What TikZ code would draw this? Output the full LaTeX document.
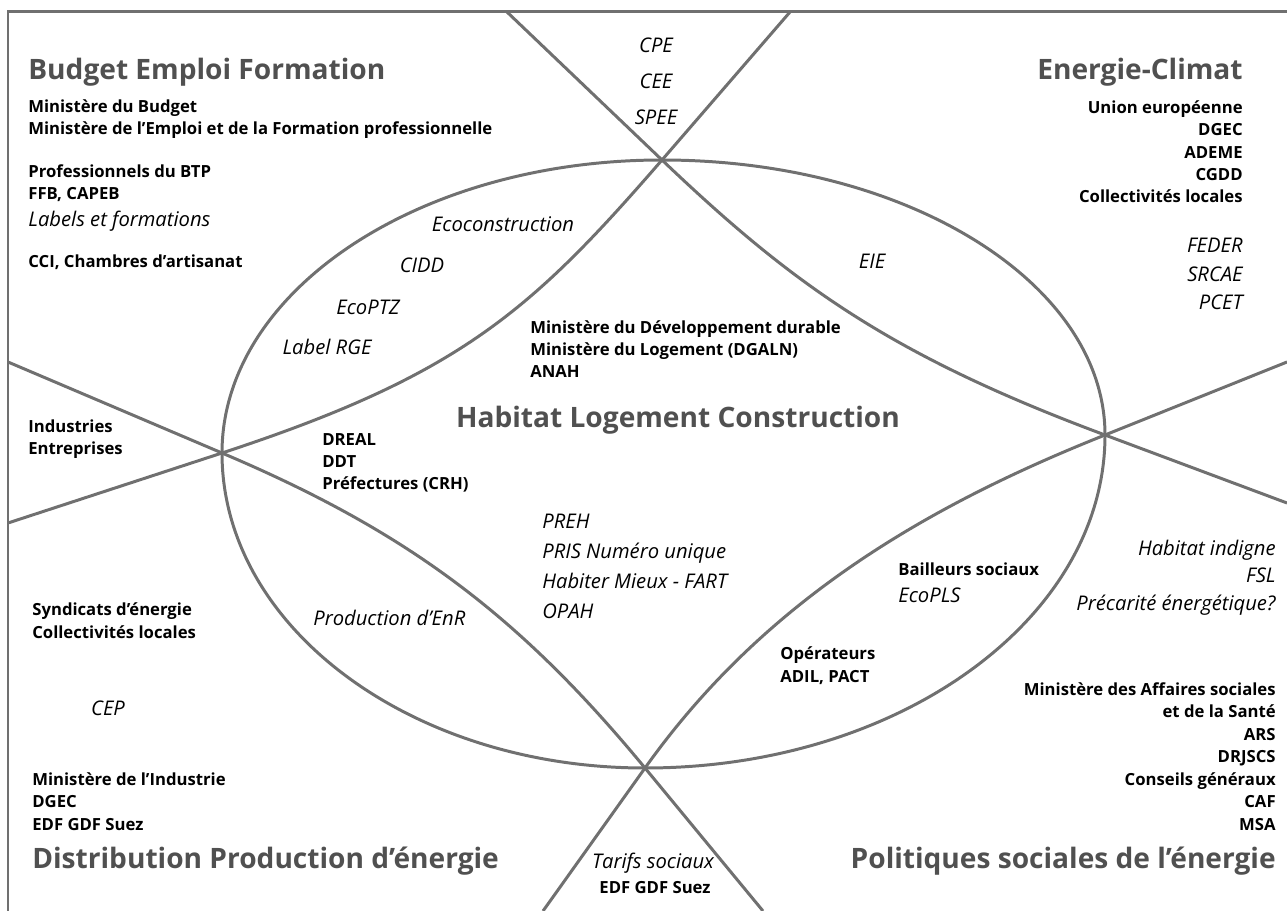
\documentclass[tikz,border=0pt]{standalone}
\usepackage{fontspec}
\setmainfont{Open Sans}

\definecolor{linegray}{RGB}{112,112,112}
\definecolor{headgray}{RGB}{80,80,80}

\tikzset{
	frontier/.style={draw=linegray, line width=1.7pt},
	heading/.style={inner sep=0pt, text=headgray, font=\fontsize{16}{19}\selectfont\bfseries},
	actor/.style={inner sep=0pt, font=\fontsize{9.5}{12.8}\selectfont\bfseries},
	tool/.style={inner sep=0pt, font=\fontsize{11.5}{17}\selectfont\itshape},
}

\begin{document}
\begin{tikzpicture}[x=0.02cm, y=-0.02cm]
	\useasboundingbox (0,0) rectangle (1287,911);

	% crossing points on the ellipse
	\coordinate (T) at (662,160);
	\coordinate (R) at (1105,435);
	\coordinate (B) at (645,768);
	\coordinate (L) at (222,453);
	% ends on the frame
	\coordinate (Tw) at (507,12);
	\coordinate (Te) at (790,12);
	\coordinate (Ln) at (8,362);
	\coordinate (Ls) at (8,523);
	\coordinate (Rn) at (1287,362);
	\coordinate (Rs) at (1287,503);
	\coordinate (Bw) at (543,911);
	\coordinate (Be) at (763,911);

	% frame
	\draw[frontier] (8,911) |- (1287,12);

	% ellipse
	\draw[frontier] (T) .. controls (907,160) and (1105,283) .. (R)
		.. controls (1105,619) and (899,768) .. (B)
		.. controls (411,768) and (222,627) .. (L)
		.. controls (222,291) and (419,160) .. (T);

	% frontiers between the fields
	\draw[frontier] (Te) -- (T) .. controls (531,311) and (460,375) .. (L) -- (Ls);
	\draw[frontier] (Tw) -- (T) .. controls (792,284) and (890,355) .. (R) -- (Rs);
	\draw[frontier] (Ln) -- (L) .. controls (406,531) and (518,614) .. (B) -- (Be);
	\draw[frontier] (Rn) -- (R) .. controls (919,509) and (761,605) .. (B) -- (Bw);

	% headings
	\node[heading, anchor=base west] (budget) at (28,80) {Budget Emploi Formation};
	\node[heading, anchor=base east] (climat) at (1243,80) {Energie-Climat};
	\node[heading, anchor=base] (habitat) at (678,428) {Habitat Logement Construction};
	\node[heading, anchor=base west] (distrib) at (32,868) {Distribution Production d'énergie};
	\node[heading, anchor=base east] (social) at (1276,868) {Politiques sociales de l'énergie};

	% Budget Emploi Formation (multi-line nodes sit on their last line)
	\node[actor, anchor=base west, align=left] (minbudget) at (28,135) {Ministère du Budget\\Ministère de l'Emploi et de la Formation professionnelle};
	\node[actor, anchor=base west, align=left] (btp) at (28,200) {Professionnels du BTP\\FFB, CAPEB};
	\node[tool, anchor=base west] (labels) at (28,227) {Labels et formations};
	\node[actor, anchor=base west] (cci) at (28,268) {CCI, Chambres d'artisanat};

	\node[tool, anchor=base, align=center, font=\fontsize{11.5}{20.7}\selectfont\itshape] (cpe) at (656,125) {CPE\\CEE\\SPEE};

	\node[tool, anchor=base] (ecoconst) at (503,232) {Ecoconstruction};
	\node[tool, anchor=base] (cidd) at (422,273) {CIDD};
	\node[tool, anchor=base] (ecoptz) at (368,315) {EcoPTZ};
	\node[tool, anchor=base] (rge) at (327,355) {Label RGE};

	% Energie-Climat
	\node[actor, anchor=base east, align=right] (union) at (1243,203) {Union européenne\\DGEC\\ADEME\\CGDD\\Collectivités locales};
	\node[tool, anchor=base east, align=right, font=\fontsize{11.5}{16.5}\selectfont\itshape] (feder) at (1243,310) {FEDER\\SRCAE\\PCET};
	\node[tool, anchor=base] (eie) at (872,269) {EIE};

	% Habitat Logement Construction
	\node[actor, anchor=base west, align=left] (minlog) at (530,378) {Ministère du Développement durable\\Ministère du Logement (DGALN)\\ANAH};
	\node[actor, anchor=base west, align=left] (dreal) at (322,490) {DREAL\\DDT\\Préfectures (CRH)};
	\node[tool, anchor=base west, align=left] (preh) at (542,618) {PREH\\PRIS Numéro unique\\Habiter Mieux - FART\\OPAH};

	\node[actor, anchor=base west, align=left] (industries) at (28,455) {Industries\\Entreprises};

	% Politiques sociales de l'energie
	\node[actor, anchor=base west] (bailleurs) at (898,575) {Bailleurs sociaux};
	\node[tool, anchor=base west] (ecopls) at (898,602) {EcoPLS};
	\node[actor, anchor=base west, align=left] (operateurs) at (780,682) {Opérateurs\\ADIL, PACT};
	\node[tool, anchor=base east, align=right, font=\fontsize{11.5}{15.5}\selectfont\itshape] (indigne) at (1276,610) {Habitat indigne\\FSL\\Précarité énergétique?};
	\node[actor, anchor=base east, align=right] (affaires) at (1276,830) {Ministère des Affaires sociales\\et de la Santé\\ARS\\DRJSCS\\Conseils généraux\\CAF\\MSA};

	% Distribution Production d'energie
	\node[tool, anchor=base west] (enr) at (313,625) {Production d'EnR};
	\node[actor, anchor=base west, align=left] (syndicats) at (32,638) {Syndicats d'énergie\\Collectivités locales};
	\node[tool, anchor=base] (cep) at (108,715) {CEP};
	\node[actor, anchor=base west, align=left] (minind) at (32,830) {Ministère de l'Industrie\\DGEC\\EDF GDF Suez};

	\node[tool, anchor=base] (tarifs) at (653,868) {Tarifs sociaux};
	\node[actor, anchor=base] (edf) at (655,893) {EDF GDF Suez};

\end{tikzpicture}
\end{document}
